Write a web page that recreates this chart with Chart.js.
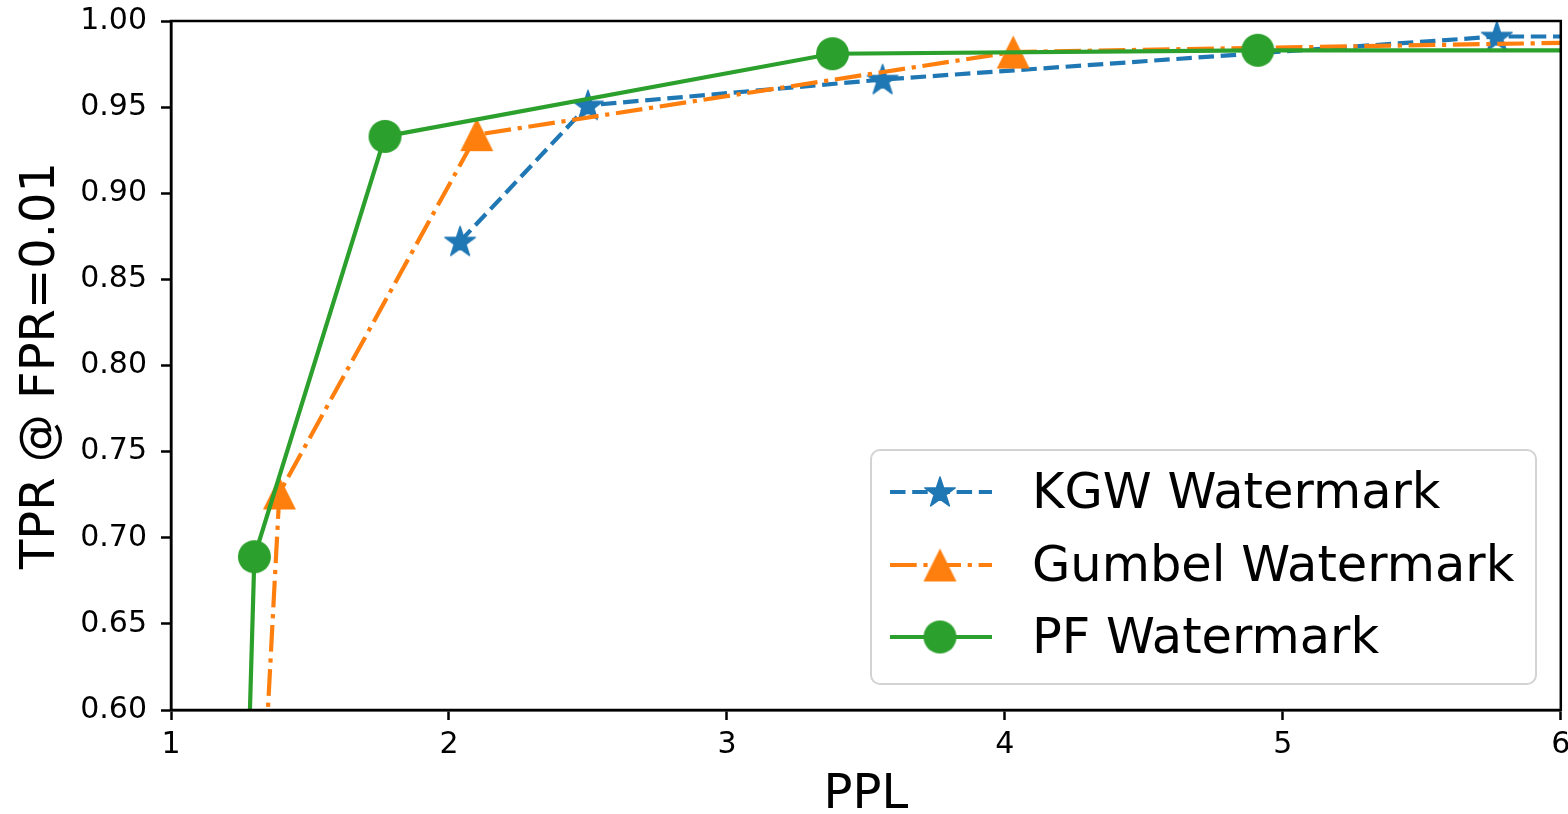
<!DOCTYPE html>
<html>
<head>
<meta charset="utf-8">
<script src="https://cdn.jsdelivr.net/npm/chart.js@4.4.1/dist/chart.umd.min.js"></script>
<style>
  html, body { margin: 0; padding: 0; background: #fff; overflow: hidden; }
  #wrap { width: 1568px; height: 814px; overflow: hidden; }
</style>
</head>
<body>
<!-- canvas is a bit wider than the window so the last x label gets cut like in the figure -->
<div id="wrap"><canvas id="chart" width="1581" height="814"></canvas></div>
<script>
// data (last points sit past the right edge, first ones below 0.60)
var kgwPPL = [2.04, 2.50, 3.56, 5.77, 7.00];
var kgwTPR = [0.872, 0.951, 0.966, 0.991, 0.991];
var gumbelPPL = [1.25, 1.39, 2.10, 4.03, 7.00];
var gumbelTPR = [0.300, 0.726, 0.934, 0.982, 0.990];
var pfPPL = [1.23, 1.30, 1.77, 3.38, 4.91, 7.00];
var pfTPR = [0.300, 0.689, 0.933, 0.981, 0.983, 0.983];
var xTicks = [1, 2, 3, 4, 5, 6];
var yTicks = [0.60, 0.65, 0.70, 0.75, 0.80, 0.85, 0.90, 0.95, 1.00];
var seriesNames = ["KGW Watermark", "Gumbel Watermark", "PF Watermark"];

var BLUE = "#1f77b4", ORANGE = "#ff7f0e", GREEN = "#2ca02c";
var FONT = '"DejaVu Sans", Verdana, sans-serif';
var LW = 4.2;

function toPoints(xs, ys) {
    return xs.map(function(x, i) { return {x: x, y: ys[i]}; });
}

function makeStar(color, r) {
    var c = document.createElement("canvas");
    var size = Math.ceil(r * 2 + 4);
    c.width = size; c.height = size;
    var g = c.getContext("2d");
    var cx = size / 2, cy = size / 2 + r * 0.06, inner = r * 0.382;
    g.beginPath();
    for (var i = 0; i < 10; i++) {
        var rad = (i % 2 == 0) ? r : inner;
        var a = -Math.PI / 2 + i * Math.PI / 5;
        g.lineTo(cx + rad * Math.cos(a), cy + rad * Math.sin(a));
    }
    g.closePath();
    g.fillStyle = color;
    g.fill();
    g.lineJoin = "round";
    g.lineWidth = 1.5;
    g.strokeStyle = color;
    g.stroke();
    return c;
}

function makeTriangle(color, s) {
    var c = document.createElement("canvas");
    var size = Math.ceil(s + 4);
    c.width = size; c.height = size;
    var g = c.getContext("2d");
    var cx = size / 2, cy = size / 2, h = s / 2;
    g.beginPath();
    g.moveTo(cx, cy - h);
    g.lineTo(cx - h, cy + h);
    g.lineTo(cx + h, cy + h);
    g.closePath();
    g.fillStyle = color;
    g.fill();
    return c;
}

function makeCircle(color, r) {
    var c = document.createElement("canvas");
    var size = Math.ceil(r * 2 + 2);
    c.width = size; c.height = size;
    var g = c.getContext("2d");
    g.beginPath();
    g.arc(size / 2, size / 2, r, 0, Math.PI * 2);
    g.fillStyle = color;
    g.fill();
    return c;
}

var starImg = makeStar(BLUE, 16);
var triImg = makeTriangle(ORANGE, 33);
var dotImg = makeCircle(GREEN, 16.5);

var styles = [
    {color: BLUE, dash: [15.5, 6.7], marker: starImg},
    {color: ORANGE, dash: [26.7, 6.7, 4.2, 6.7], marker: triImg},
    {color: GREEN, dash: [], marker: dotImg}
];

// full black frame around the axes, drawn over the lines like matplotlib spines
var framePlugin = {
    id: "frame",
    afterDatasetsDraw: function(chart) {
        var a = chart.chartArea, ctx = chart.ctx;
        ctx.save();
        ctx.strokeStyle = "#000";
        ctx.lineWidth = 2.5;
        ctx.strokeRect(a.left, a.top, a.right - a.left, a.bottom - a.top);
        ctx.restore();
    }
};

// matplotlib-like legend in the lower right corner of the axes
var legendPlugin = {
    id: "mplLegend",
    afterDraw: function(chart) {
        var ctx = chart.ctx;
        var box = {x: 871, y: 450, w: 665, h: 234, r: 9};
        ctx.save();
        ctx.beginPath();
        ctx.roundRect(box.x, box.y, box.w, box.h, box.r);
        ctx.fillStyle = "rgba(255,255,255,0.8)";
        ctx.fill();
        ctx.lineWidth = 2;
        ctx.strokeStyle = "#d3d3d3";
        ctx.stroke();

        var rows = [492, 565, 637];
        chart.data.datasets.forEach(function(ds, i) {
            var st = styles[i];
            var y = rows[i];
            ctx.beginPath();
            ctx.setLineDash(st.dash);
            ctx.lineWidth = LW;
            ctx.strokeStyle = st.color;
            ctx.moveTo(890, y);
            ctx.lineTo(992, y);
            ctx.stroke();
            ctx.setLineDash([]);
            ctx.drawImage(st.marker, 940 - st.marker.width / 2, y - st.marker.height / 2);
            ctx.fillStyle = "#000";
            ctx.font = "49.5px " + FONT;
            ctx.textBaseline = "middle";
            ctx.textAlign = "left";
            ctx.fillText(ds.label, 1032, y + 3);
        });
        ctx.restore();
    }
};

var datasets = [
    {label: seriesNames[0], data: toPoints(kgwPPL, kgwTPR), order: 2},
    {label: seriesNames[1], data: toPoints(gumbelPPL, gumbelTPR), order: 1},
    {label: seriesNames[2], data: toPoints(pfPPL, pfTPR), order: 0}
].map(function(ds, i) {
    var st = styles[i];
    ds.showLine = true;
    ds.borderColor = st.color;
    ds.backgroundColor = st.color;
    ds.borderWidth = LW;
    ds.borderDash = st.dash;
    ds.pointStyle = st.marker;
    ds.pointRadius = 16;
    ds.pointHoverRadius = 16;
    ds.tension = 0;
    return ds;
});

var ctx = document.getElementById("chart").getContext("2d");
new Chart(ctx, {
    type: "scatter",
    data: {datasets: datasets},
    options: {
        responsive: false,
        animation: false,
        devicePixelRatio: 1,
        layout: {padding: {top: 21, right: 7, left: 0, bottom: 0}},
        plugins: {
            legend: {display: false},
            tooltip: {enabled: false}
        },
        scales: {
            x: {
                type: "linear",
                min: 1, max: 6,
                afterBuildTicks: function(s) {
                    s.ticks = xTicks.map(function(v) { return {value: v}; });
                },
                afterFit: function(s) {
                    s.height = 104;
                    s.paddingLeft = 0; s.paddingRight = 0;
                },
                grid: {drawOnChartArea: false, drawTicks: true, tickLength: 10, tickColor: "#000", tickWidth: 2.5},
                border: {display: true, color: "#000", width: 2.5},
                ticks: {
                    color: "#000",
                    padding: 7,
                    maxRotation: 0,
                    font: {family: FONT, size: 30},
                    callback: function(v) { return String(v); }
                },
                title: {
                    display: true,
                    text: "PPL",
                    color: "#000",
                    font: {family: FONT, size: 48, lineHeight: 1},
                    padding: {top: 0, bottom: -6}
                }
            },
            y: {
                type: "linear",
                min: 0.6, max: 1.0,
                afterBuildTicks: function(s) {
                    s.ticks = yTicks.map(function(v) { return {value: v}; });
                },
                afterFit: function(s) {
                    s.width = 171;
                    s.paddingTop = 0; s.paddingBottom = 0;
                },
                grid: {drawOnChartArea: false, drawTicks: true, tickLength: 10, tickColor: "#000", tickWidth: 2.5},
                border: {display: true, color: "#000", width: 2.5},
                ticks: {
                    color: "#000",
                    padding: 14,
                    font: {family: FONT, size: 30},
                    callback: function(v) { return Number(v).toFixed(2); }
                },
                title: {
                    display: true,
                    text: "TPR @ FPR=0.01",
                    color: "#000",
                    font: {family: FONT, size: 48, lineHeight: 1},
                    padding: {top: 18, bottom: 0}
                }
            }
        }
    },
    plugins: [framePlugin, legendPlugin]
});
</script>
</body>
</html>
